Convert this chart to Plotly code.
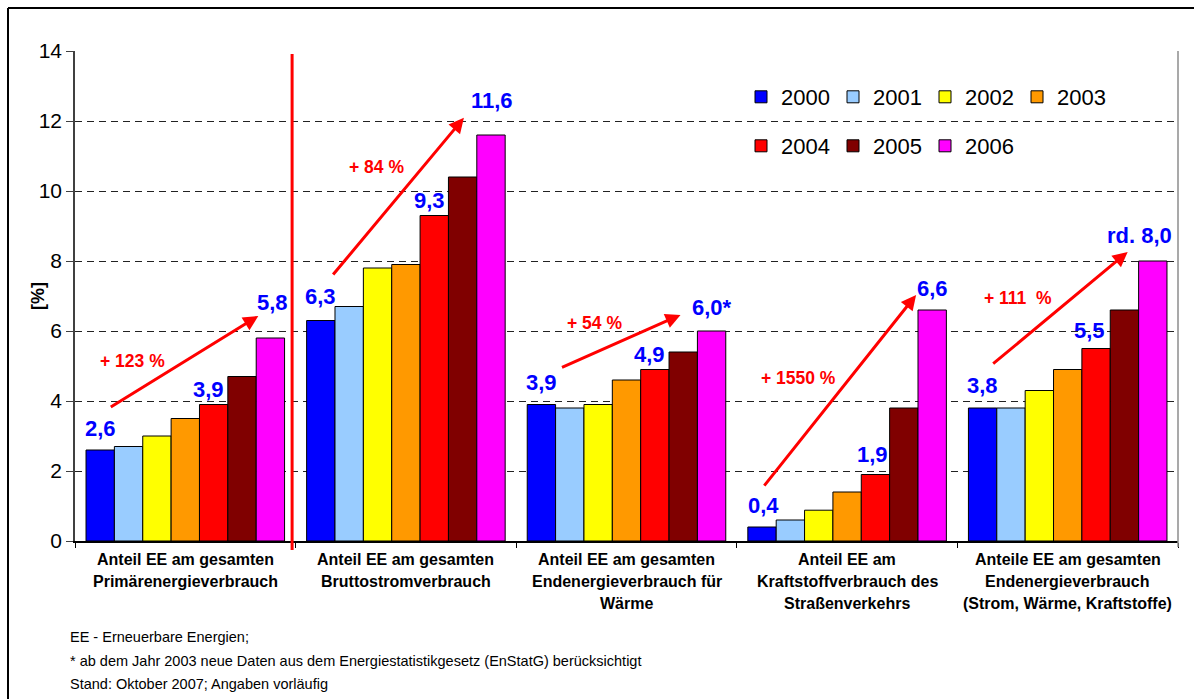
import plotly.graph_objects as go

# ---------------- data ----------------
categories = [
    "Anteil EE am gesamten<br>Primärenergieverbrauch",
    "Anteil EE am gesamten<br>Bruttostromverbrauch",
    "Anteil EE am gesamten<br>Endenergieverbrauch für<br>Wärme",
    "Anteil EE am<br>Kraftstoffverbrauch des<br>Straßenverkehrs",
    "Anteile EE am gesamten<br>Endenergieverbrauch<br>(Strom, Wärme, Kraftstoffe)",
]
years = ["2000", "2001", "2002", "2003", "2004", "2005", "2006"]
v2000 = [2.6, 6.3, 3.9, 0.4, 3.8]
v2001 = [2.7, 6.7, 3.8, 0.6, 3.8]
v2002 = [3.0, 7.8, 3.9, 0.88, 4.3]
v2003 = [3.5, 7.9, 4.6, 1.4, 4.9]
v2004 = [3.9, 9.3, 4.9, 1.9, 5.5]
v2005 = [4.7, 10.4, 5.4, 3.8, 6.6]
v2006 = [5.8, 11.6, 6.0, 6.6, 8.0]
series = [v2000, v2001, v2002, v2003, v2004, v2005, v2006]
colors = ["#0000FF", "#99CCFF", "#FFFF00", "#FF9900", "#FF0000", "#800000", "#FF00FF"]

# value labels: (year index, text) per category
value_labels = [
    [(0, "2,6"), (4, "3,9"), (6, "5,8")],
    [(0, "6,3"), (4, "9,3"), (6, "11,6")],
    [(0, "3,9"), (4, "4,9"), (6, "6,0*")],
    [(0, "0,4"), (4, "1,9"), (6, "6,6")],
    [(0, "3,8"), (4, "5,5"), (6, "rd. 8,0")],
]
growth_labels = ["+ 123 %", "+ 84 %", "+ 54 %", "+ 1550 %", "+ 111  %"]
footnotes = [
    "EE - Erneuerbare Energien;",
    "* ab dem Jahr 2003 neue Daten aus dem Energiestatistikgesetz (EnStatG) berücksichtigt",
    "Stand: Oktober 2007; Angaben vorläufig",
]
y_title = "[%]"

# ---------------- layout geometry ----------------
W, H = 1194, 699
L, R, T, B = 75, 16, 51, 158
PW, PH = W - L - R, H - T - B
CAT_PX = PW / 5.0
BARGAP = 0.1
SLOT = (1 - BARGAP) / 7.0
FONT = "Liberation Sans, Arial, sans-serif"


def px2paper_x(px):
    return (px - L) / PW


def px2paper_y(py):
    return (H - B - py) / PH


def bar_x(i, j):
    return i + (j - 3) * SLOT


fig = go.Figure()
for j, (yr, vals, col) in enumerate(zip(years, series, colors)):
    fig.add_trace(go.Bar(
        x=categories, y=vals, name=yr,
        marker=dict(color=col, line=dict(color="black", width=1)),
        legend="legend" if j < 4 else "legend2",
        hoverinfo="y+name",
    ))

annotations = []
shapes = []

# value labels (blue)
label_shift = [  # (xshift px, yshift px from bar top to text centre)
    [(0, 22), (-5, 15), (2, 36)],
    [(0, 24), (-5, 15), (1, 35)],
    [(0, 22), (-5, 15), (0, 24)],
    [(1, 22), (-3, 20), (0, 22)],
    [(0, 23), (-7, 18), (-13, 26)],
]
for i, labs in enumerate(value_labels):
    for (j, txt), (dx, dy) in zip(labs, label_shift[i]):
        annotations.append(dict(
            x=bar_x(i, j), y=series[j][i], xref="x", yref="y",
            text=txt, showarrow=False, xanchor="center", yanchor="middle",
            xshift=dx, yshift=dy,
            font=dict(family=FONT, size=22, color="#0000FF", weight="bold"),
        ))

# growth labels (red) : offset px from category centre, y value
growth_pos = [(-53, 5.14), (-29, 10.69), (-32, 6.23), (-49, 4.66), (-50, 6.94)]
for i, (txt, (dx, yv)) in enumerate(zip(growth_labels, growth_pos)):
    annotations.append(dict(
        x=i + dx / CAT_PX, y=yv, xref="x", yref="y", text=txt, showarrow=False,
        font=dict(family=FONT, size=17.5, color="#FF0000", weight="bold"),
    ))

# arrows: (tail dx px, tail y, head dx px, head y)
arrows = [(-76, 3.8, 73, 6.43), (-74, 7.57, 58, 12.09), (-66, 4.94, 54, 6.46),
          (-84, 1.54, 69, 7.03), (-76, 5.03, 60, 8.26)]
for i, (tx, ty, hx, hy) in enumerate(arrows):
    annotations.append(dict(
        x=i + hx / CAT_PX, y=hy, ax=i + tx / CAT_PX, ay=ty,
        xref="x", yref="y", axref="x", ayref="y", text="",
        showarrow=True, arrowhead=2, arrowsize=1, arrowwidth=3, arrowcolor="#FF0000",
    ))

# category labels, line by line
for i, cat in enumerate(categories):
    for k, line in enumerate(cat.split("<br>")):
        annotations.append(dict(
            x=i, y=0, xref="x", yref="paper", text=line, showarrow=False,
            xanchor="center", yanchor="middle", yshift=-(18 + 22 * k),
            font=dict(family=FONT, size=16, color="black", weight="bold"),
        ))

# footnotes
for k, line in enumerate(footnotes):
    annotations.append(dict(
        x=px2paper_x(68), y=0, xref="paper", yref="paper", text=line, showarrow=False,
        xanchor="left", yanchor="middle", yshift=-(96 + 23.5 * k),
        font=dict(family=FONT, size=14.5, color="black"),
    ))

# y axis title
annotations.append(dict(
    x=px2paper_x(26), y=px2paper_y(296), xref="paper", yref="paper", text=y_title,
    showarrow=False, textangle=-90,
    font=dict(family=FONT, size=18, color="black", weight="bold"),
))

# outer frame (only top and left edges fall inside the picture)
shapes.append(dict(type="line", xref="paper", yref="paper",
                   x0=px2paper_x(8), x1=px2paper_x(1300), y0=px2paper_y(8), y1=px2paper_y(8),
                   line=dict(color="black", width=2), layer="above"))
shapes.append(dict(type="line", xref="paper", yref="paper",
                   x0=px2paper_x(8), x1=px2paper_x(8), y0=px2paper_y(8), y1=px2paper_y(760),
                   line=dict(color="black", width=2), layer="above"))
# white box behind legend
shapes.append(dict(type="rect", xref="paper", yref="paper",
                   x0=px2paper_x(740), x1=px2paper_x(1111), y0=px2paper_y(170), y1=px2paper_y(68),
                   line=dict(width=0), fillcolor="white", layer="between"))
# right plot border
shapes.append(dict(type="line", xref="paper", yref="paper", x0=1, x1=1,
                   y0=px2paper_y(547), y1=1, line=dict(color="#8c8c8c", width=1.5)))
# red separator line
shapes.append(dict(type="line", xref="x", yref="paper",
                   x0=0.5 - 3.5 / CAT_PX, x1=0.5 - 3.5 / CAT_PX,
                   y0=px2paper_y(550), y1=px2paper_y(54),
                   line=dict(color="#FF0000", width=3), layer="above"))

legend_common = dict(
    orientation="h", xanchor="left", yanchor="middle",
    font=dict(family=FONT, size=22, color="black"),
    bgcolor="white", entrywidth=47, entrywidthmode="pixels",
    traceorder="normal", itemclick=False, itemdoubleclick=False,
)

fig.update_layout(
    width=W, height=H,
    margin=dict(l=L, r=R, t=T, b=B, autoexpand=False),
    paper_bgcolor="white", plot_bgcolor="white",
    barmode="group", bargap=BARGAP, bargroupgap=0,
    font=dict(family=FONT, color="black"),
    showlegend=True,
    legend=dict(x=px2paper_x(741), y=px2paper_y(97), **legend_common),
    legend2=dict(x=px2paper_x(741), y=px2paper_y(146), **legend_common),
    xaxis=dict(
        type="category", range=[-0.5, 4.5], showticklabels=False,
        ticks="outside", tickson="boundaries", ticklen=5, tickcolor="black",
        showline=True, linecolor="black", linewidth=1.5, showgrid=False,
    ),
    yaxis=dict(
        range=[0, 14], dtick=2, tick0=0,
        ticks="outside", ticklen=7, tickcolor="#404040",
        tickfont=dict(family=FONT, size=21, color="black"),
        showline=True, linecolor="#404040", linewidth=1.5,
        showgrid=True, gridcolor="#222222", gridwidth=1, griddash="7px,5px",
        zeroline=False,
    ),
    annotations=annotations,
    shapes=shapes,
)

fig.write_html("out.html", config={"displayModeBar": False},
               post_script="document.body.style.margin='0px';document.body.style.overflow='hidden';")
